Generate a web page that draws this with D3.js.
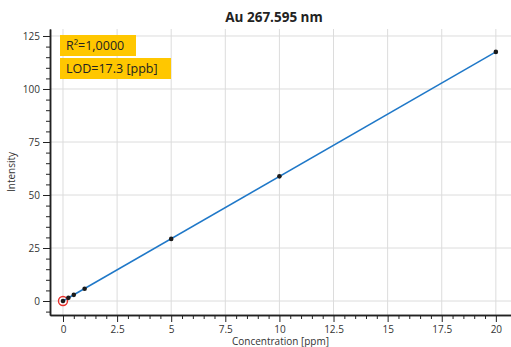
<!DOCTYPE html>
<html lang="en">
<head>
  <meta charset="UTF-8">
  <title>Au 267.595 nm</title>
  <script src="https://d3js.org/d3.v7.min.js"></script>
  <style>
    body { margin: 0; background: white; }
    svg text { font-family: "Open Sans", "DejaVu Sans", sans-serif; }
  </style>
</head>
<body>
  <svg width="511" height="347"></svg>

  <script>
    // calibration data
    const concentration = [0, 0.25, 0.5, 1, 5, 10, 20];
    const intensity = [0, 1.5, 2.9, 5.8, 29.3, 58.8, 117.5];
    const xTicks = [0, 2.5, 5, 7.5, 10, 12.5, 15, 17.5, 20];
    const yTicks = [0, 25, 50, 75, 100, 125];
    const fitLine = [[0, 0], [20, 117.5]];
    const notes = ["R²=1,0000", "LOD=17.3 [ppb]"];

    const svg = d3.select("svg");
    const plotLeft = 50, plotRight = 511, plotTop = 29, plotBottom = 315;

    const x = d3.scaleLinear().domain([-0.6, 20.7]).range([plotLeft, plotRight]);
    const y = d3.scaleLinear().domain([-6.6, 128.3]).range([plotBottom, plotTop]);

    // grid
    svg.append("g").selectAll("line").data(xTicks).enter().append("line")
      .attr("x1", d => x(d)).attr("x2", d => x(d))
      .attr("y1", plotTop).attr("y2", plotBottom)
      .attr("stroke", "#dcdcdc").attr("stroke-width", 1);
    svg.append("g").selectAll("line").data(yTicks).enter().append("line")
      .attr("x1", plotLeft).attr("x2", plotRight)
      .attr("y1", d => y(d)).attr("y2", d => y(d))
      .attr("stroke", "#dcdcdc").attr("stroke-width", 1);

    // axes
    const xMinor = d3.range(0, 20.01, 0.5).filter(v => v % 2.5 !== 0);
    const yMinor = d3.range(-5, 126, 5).filter(v => v % 25 !== 0);

    const xAxis = svg.append("g").attr("transform", `translate(0,${plotBottom})`);
    xAxis.call(d3.axisBottom(x).tickValues(xMinor).tickSize(4).tickFormat("").tickSizeOuter(0));
    xAxis.append("g").call(d3.axisBottom(x).tickValues(xTicks).tickSize(7).tickSizeOuter(0)
      .tickFormat(d => String(d)));
    xAxis.selectAll(".domain").attr("stroke", "#222").attr("stroke-width", 1.5);
    xAxis.selectAll("line").attr("stroke", "#222");
    xAxis.selectAll("text").attr("font-size", 10).attr("fill", "#333").attr("dy", "0.75em");

    const yAxis = svg.append("g").attr("transform", `translate(${plotLeft},0)`);
    yAxis.call(d3.axisLeft(y).tickValues(yMinor).tickSize(4).tickFormat("").tickSizeOuter(0));
    yAxis.append("g").call(d3.axisLeft(y).tickValues(yTicks).tickSize(7).tickSizeOuter(0));
    yAxis.selectAll(".domain").attr("stroke", "#222").attr("stroke-width", 1.5);
    yAxis.selectAll("line").attr("stroke", "#222");
    yAxis.selectAll("text").attr("font-size", 10).attr("fill", "#333");

    // title and labels
    svg.append("text")
      .attr("x", 274).attr("y", 22)
      .attr("text-anchor", "middle")
      .attr("font-size", 13.5).attr("font-weight", "bold").attr("fill", "#222")
      .text("Au 267.595 nm");

    svg.append("text")
      .attr("x", (plotLeft + plotRight) / 2).attr("y", 345)
      .attr("text-anchor", "middle")
      .attr("font-size", 10).attr("fill", "#333")
      .text("Concentration [ppm]");

    svg.append("text")
      .attr("transform", "rotate(-90)")
      .attr("x", -172).attr("y", 15)
      .attr("text-anchor", "middle")
      .attr("font-size", 10).attr("fill", "#333")
      .text("Intensity");

    // fit line
    svg.append("path")
      .datum(fitLine)
      .attr("d", d3.line().x(d => x(d[0])).y(d => y(d[1])))
      .attr("fill", "none")
      .attr("stroke", "#1f78c8")
      .attr("stroke-width", 1.5);

    // points
    svg.append("circle")
      .attr("cx", x(concentration[0])).attr("cy", y(intensity[0]))
      .attr("r", 4.5)
      .attr("fill", "none").attr("stroke", "#e8302c").attr("stroke-width", 1.4);

    svg.selectAll(".pt").data(concentration).enter().append("circle")
      .attr("class", "pt")
      .attr("cx", d => x(d))
      .attr("cy", (d, i) => y(intensity[i]))
      .attr("r", 2.3)
      .attr("fill", "#1a1a1a");

    // annotation boxes
    const boxes = [
      { y: 35, w: 76 },
      { y: 58, w: 111 }
    ];
    notes.forEach((t, i) => {
      svg.append("rect")
        .attr("x", 60).attr("y", boxes[i].y)
        .attr("width", boxes[i].w).attr("height", 21)
        .attr("fill", "#ffc700");
      svg.append("text")
        .attr("x", 66).attr("y", boxes[i].y + 15)
        .attr("font-size", 12.5).attr("fill", "#222")
        .text(t);
    });
  </script>
</body>
</html>
